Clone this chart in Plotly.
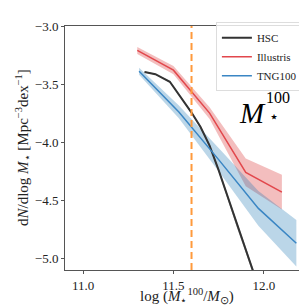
import plotly.graph_objects as go

# HSC
hsc_x = [11.34, 11.40, 11.48, 11.55, 11.60, 11.65, 11.70, 11.75, 11.80, 11.85, 11.90, 11.95, 12.00]
hsc_y = [-3.395, -3.415, -3.48, -3.63, -3.745, -3.87, -4.03, -4.24, -4.47, -4.71, -4.93, -5.15, -5.38]
hsc_err = [0.005, 0.005, 0.006, 0.008, 0.01, 0.012, 0.014, 0.016, 0.018, 0.02, 0.022, 0.024, 0.026]

# Illustris
ill_x = [11.30, 11.50, 11.70, 11.90, 12.10]
ill_y = [-3.21, -3.38, -3.75, -4.26, -4.43]
ill_err = [0.03, 0.035, 0.05, 0.12, 0.15]

# TNG100
tng_x = [11.31, 11.53, 11.75, 11.97, 12.18]
tng_y = [-3.39, -3.74, -4.15, -4.57, -4.87]
tng_err = [0.03, 0.055, 0.10, 0.15, 0.20]

cut_x = 11.6

FONT = "Liberation Serif"

fig = go.Figure()

def band(x, y, e, color):
    up = [a + b for a, b in zip(y, e)]
    lo = [a - b for a, b in zip(y, e)]
    fig.add_trace(go.Scatter(x=list(x) + list(x)[::-1], y=up + lo[::-1], fill="toself",
                             fillcolor=color, line=dict(width=0), mode="lines",
                             hoverinfo="skip", showlegend=False))

band(ill_x, ill_y, ill_err, "rgba(214,39,40,0.3)")
band(tng_x, tng_y, tng_err, "rgba(31,119,180,0.3)")
band(hsc_x, hsc_y, hsc_err, "rgba(0,0,0,0.35)")

fig.add_trace(go.Scatter(x=hsc_x, y=hsc_y, mode="lines", name="HSC",
                         line=dict(color="#333333", width=2)))
fig.add_trace(go.Scatter(x=ill_x, y=ill_y, mode="lines", name="Illustris",
                         line=dict(color="#e2474c", width=1.5)))
fig.add_trace(go.Scatter(x=tng_x, y=tng_y, mode="lines", name="TNG100",
                         line=dict(color="#3a86c4", width=1.5)))

fig.add_shape(type="line", x0=cut_x, x1=cut_x, y0=0, y1=1, xref="x", yref="paper",
              line=dict(color="#ff9a3c", width=2, dash="7px,4px"))

# Label M_star^100
fig.add_annotation(x=0.77, y=0.643, xref="paper", yref="paper", text="<i>M</i>",
                   showarrow=False, font=dict(family=FONT, size=29, color="black"),
                   xanchor="center", yanchor="middle")
fig.add_annotation(x=0.815, y=0.705, xref="paper", yref="paper", text="100",
                   showarrow=False, font=dict(family=FONT, size=16, color="black"),
                   xanchor="left", yanchor="middle")
fig.add_annotation(x=0.855, y=0.628, xref="paper", yref="paper", text="⋆",
                   showarrow=False, font=dict(family=FONT, size=16, color="black"),
                   xanchor="center", yanchor="middle")

# axis titles
fig.add_annotation(x=0.5, y=-0.107, xref="paper", yref="paper",
                   text="log (<i>M</i><sub>⋆</sub><sup>100</sup>/<i>M</i><sub>⊙</sub>)",
                   showarrow=False, font=dict(family=FONT, size=15, color="#222"),
                   xanchor="center", yanchor="middle")
fig.add_annotation(x=-0.172, y=0.5, xref="paper", yref="paper", textangle=-90,
                   text="d<i>N</i>/dlog <i>M</i><sub>⋆</sub> [Mpc<sup>−3</sup>dex<sup>−1</sup>]",
                   showarrow=False, font=dict(family=FONT, size=15, color="#222"),
                   xanchor="center", yanchor="middle")

axis_common = dict(showline=True, linecolor="#555555", linewidth=1, mirror=True,
                   ticks="outside", ticklen=3, tickcolor="#555555", showgrid=False,
                   zeroline=False, tickfont=dict(family=FONT, size=13, color="#222"))

fig.update_xaxes(range=[10.9, 12.25], tickvals=[11.0, 11.5, 12.0], tickformat=".1f",
                 **axis_common)
fig.update_yaxes(range=[-5.1, -3.0], tickvals=[-5.0, -4.5, -4.0, -3.5, -3.0], tickformat=".1f",
                 **axis_common)

fig.update_layout(
    template="none",
    width=307, height=307,
    margin=dict(l=57, r=6, t=18, b=45),
    plot_bgcolor="white", paper_bgcolor="white",
    legend=dict(x=0.975, y=1.015, xanchor="right", yanchor="top",
                bgcolor="rgba(255,255,255,0.8)", bordercolor="#dddddd", borderwidth=1,
                font=dict(family=FONT, size=11, color="#222"), itemwidth=30,
                tracegroupgap=0),
    font=dict(family=FONT, size=12),
)

fig.write_html("out.html")
